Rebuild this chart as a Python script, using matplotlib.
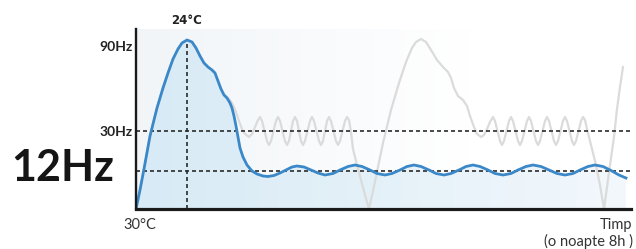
import numpy as np
import matplotlib
matplotlib.use("Agg")
import matplotlib.pyplot as plt
from matplotlib.colors import LinearSegmentedColormap

# blue curve (actual frequency) - x is time position, y is level above axis
blue_x = [136, 140, 144, 150, 157, 163, 168, 173, 178, 182,
          187, 192, 196, 200, 204, 208, 212, 215, 218, 221,
          224, 227, 230, 232, 234, 236, 238, 240, 243, 247,
          252, 257, 263, 268, 274, 280, 286, 292,
          297, 304, 311, 318, 325, 333, 340, 348, 355, 362, 370, 377, 385,
          392, 400, 407, 414, 421, 429, 436, 444, 451, 459, 466, 473,
          480, 488, 495, 503, 511, 518, 526, 533, 541, 549, 557, 565,
          573, 580, 588, 595, 603, 611, 619, 626]
blue_y = [0, 19, 40, 73, 101, 121, 136, 150, 160, 166,
          169, 167, 161, 153, 146, 142, 139, 136, 128, 120,
          114, 111, 106, 101, 93, 83, 72, 61, 52, 44,
          38, 35, 33, 32.5, 33.5, 36, 39, 42,
          43, 42, 39, 36, 34, 35.5, 39, 42.5, 44, 42.5, 39, 35.5, 34,
          35.5, 39, 42.5, 44, 42.5, 39, 35.5, 34, 35.5, 39, 42.5, 44,
          42.5, 39, 35.5, 34, 35.5, 39, 42.5, 44, 42.5, 39, 35.5, 34,
          35.5, 39, 42.5, 44, 42.5, 38.5, 34, 31]

# gray curve (conventional on/off unit)
gray_x = [136, 140, 144, 150, 157, 163, 168, 173, 178, 182,
          187, 192, 196, 200, 204, 208, 212, 215, 218, 221, 224,
          227, 230, 233, 236, 239, 242, 245, 249, 252, 255, 258,
          260, 262, 264.5, 267, 269, 271, 273.5, 276, 278, 280, 282.5, 285,
          287, 289, 291, 293, 295, 297, 299, 301, 303, 305, 307.5, 310,
          312, 314, 316.5, 319, 321, 323, 325, 327, 329, 331, 333.5, 336,
          338, 340, 342.5, 345, 347,
          349, 351, 353, 357, 361, 365, 369,
          373, 378, 383, 391, 399, 406, 412, 416, 421, 426, 431, 437,
          443, 448, 451, 454, 458, 463, 467, 470, 474, 477, 481, 484, 487, 490,
          493, 495, 497.5, 500, 502, 504, 506.5, 509, 511, 513, 515.5, 518,
          520, 522, 524.5, 527, 529, 531, 533.5, 536, 538, 540, 542.5, 545,
          547, 549, 551.5, 554, 556, 558, 560.5, 563, 565, 567, 569.5, 572,
          574, 576, 578.5, 581, 583,
          585, 587, 590, 595, 600, 604,
          607, 610, 614, 617, 620, 623]
gray_y = [0, 19, 40, 73, 101, 121, 136, 150, 160, 166,
          169, 167, 161, 153, 146, 142, 139, 136, 128, 120, 114,
          112, 109, 104, 97, 88, 80, 75, 72, 75, 82, 89,
          92, 88, 78, 68, 64, 68, 78, 88, 92, 88, 78, 68,
          64, 68, 78, 88, 92, 88, 78, 68, 64, 68, 78, 88,
          92, 88, 78, 68, 64, 68, 78, 88, 92, 88, 78, 68,
          64, 68, 78, 88, 92,
          89, 77, 60, 44, 29, 14, 0,
          18, 42, 66, 99, 126, 147, 161, 167, 170, 167, 159, 149,
          142, 137, 131, 121, 113, 109, 103, 93, 82, 75, 72, 74, 80, 87,
          92, 88, 78, 68, 64, 68, 78, 88, 92, 88, 78, 68,
          64, 68, 78, 88, 92, 88, 78, 68, 64, 68, 78, 88,
          92, 88, 78, 68, 64, 68, 78, 88, 92, 88, 78, 68,
          64, 68, 78, 88, 92,
          89, 80, 68, 48, 24, 0,
          22, 44, 72, 100, 122, 142]

tick_pos = [78, 163]
tick_labels = ["30Hz", "90Hz"]
level_30 = 78
level_12 = 38
peak_x = 187
peak_y = 169

fig = plt.figure(figsize=(6.36, 2.49), dpi=100)
ax = fig.add_axes([136 / 636, 40 / 249, 495 / 636, 180 / 249])

# faint background panel
bg_cmap = LinearSegmentedColormap.from_list("bg", ["#f1f5f8", "#ffffff"])
ax.imshow(np.linspace(0, 1, 256).reshape(1, -1), extent=[136, 470, 0, 181],
          aspect="auto", cmap=bg_cmap, zorder=0)

# gradient fill under blue curve
poly = ax.fill_between(blue_x, blue_y, 0, color="none", zorder=1)
fill_cmap = LinearSegmentedColormap.from_list("fill", ["#d7eaf5", "#f3f8fc"])
im = ax.imshow(np.linspace(0, 1, 256).reshape(1, -1), extent=[136, 631, 0, 180],
               aspect="auto", cmap=fill_cmap, zorder=1)
im.set_clip_path(poly.get_paths()[0], transform=ax.transData)

ax.plot(gray_x, gray_y, color="#dbdbdb", lw=1.6, zorder=2, solid_joinstyle="round")

dash = (0, (2.4, 1.8))
ax.axhline(level_30, color="#2b2b2b", lw=1.2, linestyle=dash, zorder=3)
ax.axhline(level_12, color="#2b2b2b", lw=1.2, linestyle=dash, zorder=3)
ax.plot([peak_x, peak_x], [0, peak_y], color="#2b2b2b", lw=1.2, linestyle=dash, zorder=3)

ax.plot(blue_x, blue_y, color="#3b88c9", lw=2, zorder=4, solid_joinstyle="round")

ax.set_xlim(136, 631)
ax.set_ylim(0, 180)

for s in ["top", "right"]:
    ax.spines[s].set_visible(False)
ax.spines["left"].set_linewidth(1.7)
ax.spines["bottom"].set_linewidth(2.3)
ax.spines["left"].set_color("#1a1a1a")
ax.spines["bottom"].set_color("#1a1a1a")
ax.spines["left"].set_zorder(5)
ax.spines["bottom"].set_zorder(5)

ax.set_xticks([])
ax.set_yticks(tick_pos)
ax.set_yticklabels(tick_labels, fontfamily="Lato", fontweight="bold",
                   fontsize=10, color="#222222")
ax.tick_params(axis="y", length=0, pad=2.5)

ax.text(peak_x, 189, "24°C", ha="center", va="center", fontsize=8.5,
        fontweight="bold", family=["Liberation Sans Narrow", "DejaVu Sans"],
        color="#222222", clip_on=False)
ax.text(140, -16, "30°C", ha="center", va="center", fontsize=10.5,
        family="Lato", color="#333333", clip_on=False)
ax.text(632, -16, "Timp", ha="right", va="center", fontsize=10.5,
        family="Lato", color="#333333", clip_on=False)
ax.text(633, -32, "(o noapte 8h )", ha="right", va="center", fontsize=10.5,
        family="Lato", color="#333333", clip_on=False)

fig.text(63 / 636, 1 - 168 / 249, "12Hz", ha="center", va="center",
         fontsize=31, fontweight="bold", family="Lato", color="#151515")

fig.savefig("out.png", dpi=100)
